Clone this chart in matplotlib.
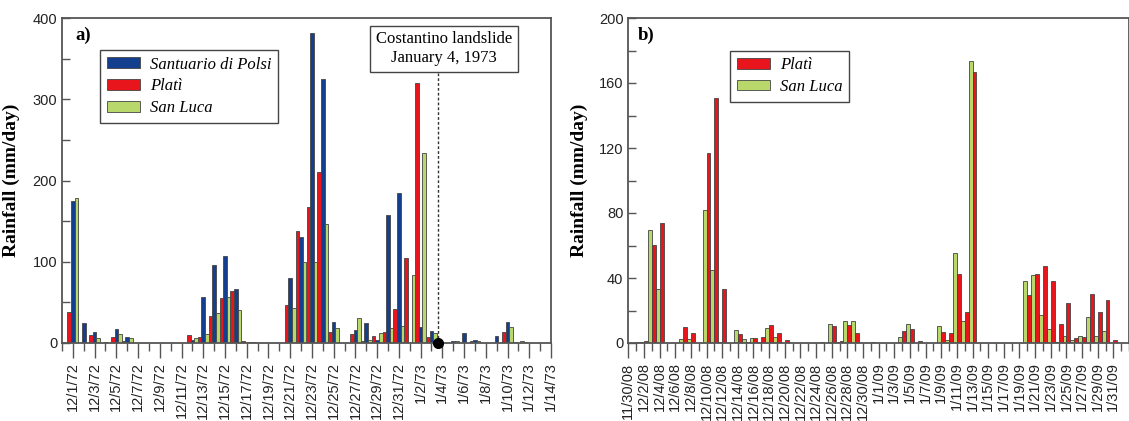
import numpy as np
import pandas as pd
import matplotlib
matplotlib.use('Agg')
import matplotlib.pyplot as plt

# panel a: daily rainfall 12/1/72 - 1/14/73 (mm/day)
days_a = pd.date_range('1972-12-01', '1973-01-14')
polsi_a = [175, 25, 13, 1, 17.7, 7, 0, 0, 0, 0, 0, 4, 57, 95.5, 107, 66, 1.5, 0.5, 0, 0,
           80, 131, 382, 325, 26, 0, 16, 25, 3.7, 157, 185, 0, 20, 15, 0, 2.5, 12, 4, 0,
           8.6, 26, 0, 0.3, 0, 0]
plati_a = [38, 0, 10, 0, 7.4, 2, 0, 0, 0, 0, 0, 10, 8, 33, 56, 64.6, 2, 1.5, 0, 0,
           47, 138, 167, 211, 13, 0, 10.7, 2.5, 8.6, 13.5, 42, 105, 320, 7.4, 0, 0, 0, 2, 0,
           0, 13.5, 1.2, 0.8, 0, 0]
sanluca_a = [178, 0, 6, 0, 11, 6.5, 0, 0, 0, 0, 0, 6, 11, 37, 57, 41, 1, 0.3, 0, 0,
             43, 100, 100, 147, 18, 0, 31, 3.7, 12.7, 19, 21.5, 84, 234, 12, 0, 2, 0, 2.5, 0,
             0, 20, 2, 0.5, 0, 0]

# panel b: daily rainfall 11/30/08 - 1/31/09 (mm/day)
days_b = pd.date_range('2008-11-30', '2009-01-31')
plati_b = [0, 0.4, 1.4, 60.3, 74, 0, 0, 10, 6, 0, 116.7, 151, 33, 0.3, 5.3, 0.8, 3, 3.6,
           11, 6.4, 1.8, 0, 0, 0, 0, 0, 10.5, 1.2, 11, 6, 0, 0.5, 0, 0, 0, 7.4, 8.4, 1.2,
           0.3, 0, 6.8, 6.2, 42.5, 18.9, 167, 0, 0, 0.3, 0, 0, 0, 29.3, 42.3, 47.4, 38,
           11.9, 24.6, 3.3, 3.9, 30.2, 19, 26.3, 1.6]
sanluca_b = [0, 0.3, 0.4, 69.5, 33, 0, 0, 2.3, 2.3, 0, 82, 45, 0.5, 0, 8, 2.3, 3, 0.5,
             9.5, 3.5, 0, 0, 0, 0, 0, 0.5, 11.5, 0.5, 13.5, 13.7, 0, 0, 0, 0, 0, 3.4, 11.6,
             0, 0, 0, 10.4, 1.7, 55.6, 13.5, 173.5, 0, 0, 0, 0, 0, 0, 38, 42, 17.4, 8.4,
             0.6, 4.5, 2, 4.5, 16, 4.5, 7.2, 0]

event_x = 33.6  # Costantino landslide, January 4, 1973

BLUE = '#133f8e'
RED = '#e8151d'
GREEN = '#b8d86c'
EDGE = '#444444'
SPINE = '#555555'


def fmt(d):
    return '{0}/{1}/{2:02d}'.format(d.month, d.day, d.year % 100)


def style_axis(ax, ymax, ystep, yminor, xlo, xhi, labels):
    n = len(labels)
    ax.set_xlim(xlo, xhi)
    ax.set_ylim(0, ymax)
    ax.set_yticks(np.arange(0, ymax + 1, ystep))
    ax.set_yticks(np.arange(0, ymax + 1, yminor), minor=True)
    ax.set_xticks(np.arange(0, n, 2))
    ax.set_xticklabels([labels[i] for i in range(0, n, 2)], rotation=90,
                       fontfamily='Liberation Sans', fontsize=10.5, color='#222222')
    ax.set_xticks(np.arange(int(np.floor(xlo)), int(np.ceil(xhi)) + 1), minor=True)
    ax.tick_params(axis='x', which='major', direction='out', length=11, width=1,
                   color=SPINE, pad=3)
    ax.tick_params(axis='x', which='minor', direction='out', length=5.5, width=1,
                   color=SPINE)
    ax.tick_params(axis='y', which='both', direction='in', length=6, width=1,
                   color=SPINE, labelsize=10.5, labelcolor='#222222')
    for t in ax.get_yticklabels():
        t.set_fontfamily('Liberation Sans')
    for s in ax.spines.values():
        s.set_color(SPINE)
        s.set_linewidth(1.3)
    ax.set_ylabel('Rainfall (mm/day)', fontfamily='Liberation Serif',
                  fontweight='bold', fontsize=14)


fig = plt.figure(figsize=(11.29, 4.21), dpi=100)

# ---- panel a
ax1 = fig.add_axes([62 / 1129, 1 - 343 / 421, 489 / 1129, 325 / 421])
x = np.arange(len(days_a))
w = 0.33
b_red = ax1.bar(x - w, plati_a, w, color=RED, edgecolor=EDGE, linewidth=0.6)
b_blue = ax1.bar(x, polsi_a, w, color=BLUE, edgecolor=EDGE, linewidth=0.6)
b_green = ax1.bar(x + w, sanluca_a, w, color=GREEN, edgecolor=EDGE, linewidth=0.6)
style_axis(ax1, 400, 100, 50, -1, 44, [fmt(d) for d in days_a])
ax1.yaxis.set_label_coords(-0.086, 0.5)

leg_font = {'family': 'Liberation Serif', 'style': 'italic', 'size': 12}
leg = ax1.legend([b_blue, b_red, b_green], ['Santuario di Polsi', 'Platì', 'San Luca'],
                 loc='upper left', bbox_to_anchor=(0.078, 0.902), borderaxespad=0,
                 fancybox=False, edgecolor='#444444', framealpha=1, prop=leg_font,
                 handlelength=2.0, handleheight=0.6, labelspacing=0.35,
                 handletextpad=0.6, borderpad=0.4)
leg.get_frame().set_linewidth(1)

ax1.text(0.027, 0.972, 'a)', transform=ax1.transAxes, ha='left', va='top',
         fontfamily='Liberation Serif', fontweight='bold', fontsize=13.5)

ax1.plot([event_x, event_x], [0, 332], ls=(0, (2, 1.5)), color='#333333', lw=1)
ax1.plot([event_x], [0], 'o', color='black', ms=7, clip_on=False, zorder=5)
ax1.text(34.15, 362, 'Costantino landslide\nJanuary 4, 1973', ha='center', va='center',
         fontfamily='Liberation Serif', fontsize=12, linespacing=1.25,
         bbox=dict(boxstyle='square,pad=0.35', facecolor='white', edgecolor='#444444',
                   linewidth=1))

# ---- panel b
ax2 = fig.add_axes([628.3 / 1129, 1 - 343 / 421, 1 - 628.3 / 1129, 325 / 421])
x = np.arange(len(days_b))
w = 0.5
g2 = ax2.bar(x - w / 2, sanluca_b, w, color=GREEN, edgecolor=EDGE, linewidth=0.6)
r2 = ax2.bar(x + w / 2, plati_b, w, color=RED, edgecolor=EDGE, linewidth=0.6)
style_axis(ax2, 200, 40, 20, 0, 63.6, [fmt(d) for d in days_b])
ax2.yaxis.set_label_coords(-0.08, 0.5)

leg2 = ax2.legend([r2, g2], ['Platì', 'San Luca'],
                  loc='upper left', bbox_to_anchor=(0.203, 0.9), borderaxespad=0,
                  fancybox=False, edgecolor='#444444', framealpha=1, prop=leg_font,
                  handlelength=2.0, handleheight=0.6, labelspacing=0.35,
                  handletextpad=0.6, borderpad=0.4)
leg2.get_frame().set_linewidth(1)

ax2.text(0.019, 0.972, 'b)', transform=ax2.transAxes, ha='left', va='top',
         fontfamily='Liberation Serif', fontweight='bold', fontsize=13.5)

fig.savefig('out.png', dpi=100)
